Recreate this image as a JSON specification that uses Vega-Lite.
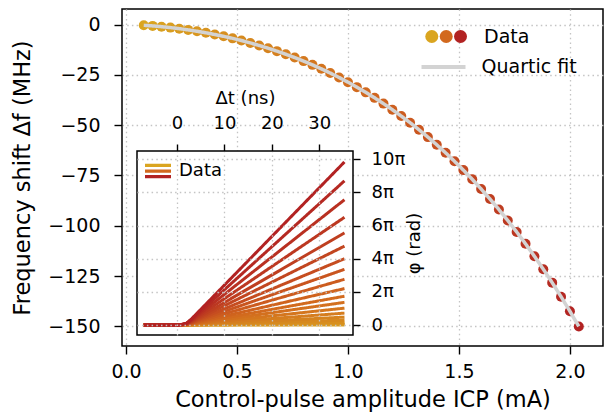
{
  "$schema": "https://vega.github.io/schema/vega-lite/v6.json",
  "width": 481,
  "height": 337,
  "autosize": {"type": "none"},
  "padding": {"left": 122, "top": 9, "right": 2, "bottom": 69},
  "background": "white",
  "config": {
    "font": "DejaVu Sans",
    "view": {"stroke": "black", "strokeWidth": 1.5},
    "axis": {
      "domain": false,
      "labelFlush": false,
      "tickColor": "black",
      "tickSize": 8,
      "tickWidth": 1.4,
      "labelColor": "black",
      "labelFontSize": 19,
      "labelFont": "DejaVu Sans",
      "titleFont": "DejaVu Sans",
      "titleFontSize": 22.5,
      "titleFontWeight": "normal",
      "titleColor": "black",
      "gridColor": "#c4c4c4",
      "gridDash": [1.5, 3.2],
      "gridWidth": 1.3
    },
    "legend": {"labelFontSize": 19, "labelColor": "black", "labelFont": "DejaVu Sans"}
  },
  "datasets": {
    "main": [
      {"I": 0.08, "df": -0.40}, {"I": 0.12, "df": -0.70}, {"I": 0.16, "df": -1.08}, {"I": 0.20, "df": -1.54},
      {"I": 0.24, "df": -2.07}, {"I": 0.28, "df": -2.67}, {"I": 0.32, "df": -3.36}, {"I": 0.36, "df": -4.12},
      {"I": 0.40, "df": -4.96}, {"I": 0.44, "df": -5.88}, {"I": 0.48, "df": -6.88}, {"I": 0.52, "df": -7.97},
      {"I": 0.56, "df": -9.15}, {"I": 0.60, "df": -10.41}, {"I": 0.64, "df": -11.77}, {"I": 0.68, "df": -13.23},
      {"I": 0.72, "df": -14.78}, {"I": 0.76, "df": -16.43}, {"I": 0.80, "df": -18.19}, {"I": 0.84, "df": -20.05},
      {"I": 0.88, "df": -22.02}, {"I": 0.92, "df": -24.11}, {"I": 0.96, "df": -26.32}, {"I": 1.00, "df": -28.65},
      {"I": 1.04, "df": -31.11}, {"I": 1.08, "df": -33.70}, {"I": 1.12, "df": -36.43}, {"I": 1.16, "df": -39.29},
      {"I": 1.20, "df": -42.31}, {"I": 1.24, "df": -45.47}, {"I": 1.28, "df": -48.79}, {"I": 1.32, "df": -52.28},
      {"I": 1.36, "df": -55.93}, {"I": 1.40, "df": -59.75}, {"I": 1.44, "df": -63.75}, {"I": 1.48, "df": -67.94},
      {"I": 1.52, "df": -72.33}, {"I": 1.56, "df": -76.91}, {"I": 1.60, "df": -81.69}, {"I": 1.64, "df": -86.69},
      {"I": 1.68, "df": -91.91}, {"I": 1.72, "df": -97.35}, {"I": 1.76, "df": -103.03}, {"I": 1.80, "df": -108.95},
      {"I": 1.84, "df": -115.12}, {"I": 1.88, "df": -121.54}, {"I": 1.92, "df": -128.23}, {"I": 1.96, "df": -135.20},
      {"I": 2.00, "df": -142.45}, {"I": 2.04, "df": -149.99}
    ],
    "inset": [
      {"I": 0.14, "t": -7, "phi": 0}, {"I": 0.14, "t": 0.5, "phi": 0}, {"I": 0.14, "t": 2, "phi": 0}, {"I": 0.14, "t": 3, "phi": 0}, {"I": 0.14, "t": 35.3, "phi": 0.01},
      {"I": 0.24, "t": -7, "phi": 0}, {"I": 0.24, "t": 0.5, "phi": 0}, {"I": 0.24, "t": 2, "phi": 0}, {"I": 0.24, "t": 3, "phi": 0.001}, {"I": 0.24, "t": 35.3, "phi": 0.04},
      {"I": 0.34, "t": -7, "phi": 0}, {"I": 0.34, "t": 0.5, "phi": 0}, {"I": 0.34, "t": 2, "phi": 0.001}, {"I": 0.34, "t": 3, "phi": 0.003}, {"I": 0.34, "t": 35.3, "phi": 0.08},
      {"I": 0.44, "t": -7, "phi": 0}, {"I": 0.44, "t": 0.5, "phi": 0}, {"I": 0.44, "t": 2, "phi": 0.002}, {"I": 0.44, "t": 3, "phi": 0.006}, {"I": 0.44, "t": 35.3, "phi": 0.17},
      {"I": 0.54, "t": -7, "phi": 0}, {"I": 0.54, "t": 0.5, "phi": 0}, {"I": 0.54, "t": 2, "phi": 0.004}, {"I": 0.54, "t": 3, "phi": 0.011}, {"I": 0.54, "t": 35.3, "phi": 0.30},
      {"I": 0.64, "t": -7, "phi": 0}, {"I": 0.64, "t": 0.5, "phi": 0}, {"I": 0.64, "t": 2, "phi": 0.006}, {"I": 0.64, "t": 3, "phi": 0.017}, {"I": 0.64, "t": 35.3, "phi": 0.48},
      {"I": 0.74, "t": -7, "phi": 0}, {"I": 0.74, "t": 0.5, "phi": 0}, {"I": 0.74, "t": 2, "phi": 0.009}, {"I": 0.74, "t": 3, "phi": 0.026}, {"I": 0.74, "t": 35.3, "phi": 0.72},
      {"I": 0.84, "t": -7, "phi": 0}, {"I": 0.84, "t": 0.5, "phi": 0}, {"I": 0.84, "t": 2, "phi": 0.012}, {"I": 0.84, "t": 3, "phi": 0.037}, {"I": 0.84, "t": 35.3, "phi": 1.02},
      {"I": 0.94, "t": -7, "phi": 0}, {"I": 0.94, "t": 0.5, "phi": 0}, {"I": 0.94, "t": 2, "phi": 0.016}, {"I": 0.94, "t": 3, "phi": 0.049}, {"I": 0.94, "t": 35.3, "phi": 1.37},
      {"I": 1.04, "t": -7, "phi": 0}, {"I": 1.04, "t": 0.5, "phi": 0}, {"I": 1.04, "t": 2, "phi": 0.021}, {"I": 1.04, "t": 3, "phi": 0.063}, {"I": 1.04, "t": 35.3, "phi": 1.74},
      {"I": 1.14, "t": -7, "phi": 0}, {"I": 1.14, "t": 0.5, "phi": 0}, {"I": 1.14, "t": 2, "phi": 0.026}, {"I": 1.14, "t": 3, "phi": 0.079}, {"I": 1.14, "t": 35.3, "phi": 2.20},
      {"I": 1.24, "t": -7, "phi": 0}, {"I": 1.24, "t": 0.5, "phi": 0}, {"I": 1.24, "t": 2, "phi": 0.033}, {"I": 1.24, "t": 3, "phi": 0.099}, {"I": 1.24, "t": 35.3, "phi": 2.76},
      {"I": 1.34, "t": -7, "phi": 0}, {"I": 1.34, "t": 0.5, "phi": 0}, {"I": 1.34, "t": 2, "phi": 0.040}, {"I": 1.34, "t": 3, "phi": 0.121}, {"I": 1.34, "t": 35.3, "phi": 3.36},
      {"I": 1.44, "t": -7, "phi": 0}, {"I": 1.44, "t": 0.5, "phi": 0}, {"I": 1.44, "t": 2, "phi": 0.048}, {"I": 1.44, "t": 3, "phi": 0.144}, {"I": 1.44, "t": 35.3, "phi": 4.00},
      {"I": 1.54, "t": -7, "phi": 0}, {"I": 1.54, "t": 0.5, "phi": 0}, {"I": 1.54, "t": 2, "phi": 0.057}, {"I": 1.54, "t": 3, "phi": 0.171}, {"I": 1.54, "t": 35.3, "phi": 4.76},
      {"I": 1.64, "t": -7, "phi": 0}, {"I": 1.64, "t": 0.5, "phi": 0}, {"I": 1.64, "t": 2, "phi": 0.067}, {"I": 1.64, "t": 3, "phi": 0.200}, {"I": 1.64, "t": 35.3, "phi": 5.56},
      {"I": 1.74, "t": -7, "phi": 0}, {"I": 1.74, "t": 0.5, "phi": 0}, {"I": 1.74, "t": 2, "phi": 0.078}, {"I": 1.74, "t": 3, "phi": 0.234}, {"I": 1.74, "t": 35.3, "phi": 6.50},
      {"I": 1.84, "t": -7, "phi": 0}, {"I": 1.84, "t": 0.5, "phi": 0}, {"I": 1.84, "t": 2, "phi": 0.091}, {"I": 1.84, "t": 3, "phi": 0.272}, {"I": 1.84, "t": 35.3, "phi": 7.56},
      {"I": 1.94, "t": -7, "phi": 0}, {"I": 1.94, "t": 0.5, "phi": 0}, {"I": 1.94, "t": 2, "phi": 0.104}, {"I": 1.94, "t": 3, "phi": 0.313}, {"I": 1.94, "t": 35.3, "phi": 8.70},
      {"I": 2.04, "t": -7, "phi": 0}, {"I": 2.04, "t": 0.5, "phi": 0}, {"I": 2.04, "t": 2, "phi": 0.118}, {"I": 2.04, "t": 3, "phi": 0.354}, {"I": 2.04, "t": 35.3, "phi": 9.84}
    ]
  },
  "layer": [
    {
      "data": {"name": "main"},
      "layer": [
        {
          "mark": {"type": "point", "filled": true, "size": 100, "opacity": 1},
          "encoding": {
            "x": {
              "field": "I", "type": "quantitative",
              "scale": {"domain": [-0.018, 2.149], "nice": false, "zero": false},
              "axis": {"orient": "bottom", "values": [0, 0.5, 1, 1.5, 2], "format": ".1f", "grid": true, "labelPadding": 8, "titlePadding": 7, "title": "Control-pulse amplitude ICP (mA)"}
            },
            "y": {
              "field": "df", "type": "quantitative",
              "scale": {"domain": [-159.7, 7.7], "nice": false, "zero": false},
              "axis": {"orient": "left", "values": [0, -25, -50, -75, -100, -125, -150], "grid": true, "labelPadding": 14, "titlePadding": 13, "title": "Frequency shift Δf (MHz)"}
            },
            "color": {
              "field": "I", "type": "quantitative",
              "scale": {"domain": [0.08, 2.04], "range": ["#daa520", "#d2691e", "#b22222"], "interpolate": "rgb"},
              "legend": null
            },
            "shape": {
              "datum": "Data1", "type": "ordinal",
              "scale": {"range": ["circle"]},
              "legend": {
                "orient": "none", "legendX": 300.3, "legendY": 18, "title": null,
                "symbolType": "circle", "symbolSize": 169, "symbolFillColor": "#daa520",
                "symbolStrokeWidth": 0, "symbolStrokeColor": "transparent", "symbolOpacity": 1,
                "labelExpr": "' '", "labelOffset": 0, "labelFontSize": 19
              }
            },
            "stroke": {
              "datum": "Data2", "type": "nominal",
              "scale": {"type": "ordinal", "range": ["transparent"]},
              "legend": {
                "orient": "none", "legendX": 314.7, "legendY": 18, "title": null,
                "symbolType": "circle", "symbolSize": 169, "symbolFillColor": "#d2691e",
                "symbolStrokeWidth": 0, "symbolOpacity": 1,
                "labelExpr": "' '", "labelOffset": 0, "labelFontSize": 19
              }
            },
            "opacity": {
              "datum": "Data", "type": "ordinal",
              "scale": {"type": "ordinal", "range": [1]},
              "legend": {
                "orient": "none", "legendX": 329, "legendY": 18, "title": null,
                "symbolType": "circle", "symbolSize": 169, "symbolFillColor": "#b22222",
                "symbolStrokeWidth": 0, "symbolStrokeColor": "transparent",
                "labelOffset": 14, "labelFontSize": 19
              }
            }
          }
        },
        {
          "mark": {"type": "line", "color": "#d3d3d3", "strokeWidth": 3.5},
          "encoding": {
            "x": {"field": "I", "type": "quantitative"},
            "y": {"field": "df", "type": "quantitative"},
            "strokeDash": {
              "datum": "Quartic fit",
              "scale": {"range": [[1, 0]]},
              "legend": {
                "orient": "none", "legendX": 297.5, "legendY": 34, "title": null,
                "symbolType": "stroke", "symbolSize": 1936, "symbolStrokeWidth": 4,
                "symbolStrokeColor": "#d3d3d3", "labelOffset": 14, "labelFontSize": 19
              }
            }
          }
        }
      ],
      "resolve": {"scale": {"strokeDash": "independent"}, "legend": {"strokeDash": "independent"}}
    },
    {
      "layer": [
        {
          "data": {"values": [{}]},
          "mark": {"type": "rect", "fill": "white", "stroke": "black", "strokeWidth": 1.5},
          "encoding": {
            "x": {
              "datum": -8.43, "type": "quantitative",
              "scale": {"domain": [-8.43, 37.1], "range": [15, 231], "nice": false, "zero": false},
              "axis": {"orient": "top", "offset": -142, "values": [0, 10, 20, 30], "grid": true, "zindex": 1, "tickSize": 7,
                       "labelFontSize": 18, "titleFontSize": 18, "labelPadding": 12, "titlePadding": 7, "title": "Δt (ns)"}
            },
            "x2": {"datum": 37.1},
            "y": {
              "datum": -0.6, "type": "quantitative",
              "scale": {"domain": [-0.6, 10.5], "range": [326, 142], "nice": false, "zero": false},
              "axis": {"orient": "left", "offset": -231, "values": [0, 2, 4, 6, 8, 10], "grid": true, "zindex": 1,
                       "tickSize": -7, "labelPadding": -11, "labelAlign": "left",
                       "labelExpr": "datum.value == 0 ? '0' : datum.value + 'π'",
                       "labelFontSize": 18, "titleFontSize": 18, "titleX": 70, "title": "φ (rad)"}
            },
            "y2": {"datum": 10.5}
          }
        },
        {
          "data": {"name": "inset"},
          "mark": {"type": "line", "strokeWidth": 3},
          "encoding": {
            "x": {"field": "t", "type": "quantitative"},
            "y": {"field": "phi", "type": "quantitative"},
            "color": {
              "field": "I", "type": "quantitative",
              "scale": {"domain": [0.08, 2.04], "range": ["#daa520", "#d2691e", "#b22222"], "interpolate": "rgb"},
              "legend": null
            },
            "detail": {"field": "I", "type": "quantitative"},
            "strokeDash": {
              "datum": "Data inset",
              "scale": {"range": [[1, 0]]},
              "legend": {
                "orient": "none", "legendX": 23, "legendY": 149, "title": null,
                "labelExpr": "'Data'", "symbolSize": 676, "labelOffset": 8, "labelFontSize": 18,
                "encode": {
                  "symbols": {
                    "update": {
                      "shape": {"value": "M-1,-0.55h2v0.25h-2Z M-1,-0.125h2v0.25h-2Z M-1,0.3h2v0.25h-2Z"},
                      "fill": {"value": {"gradient": "linear", "x1": 0, "y1": 0, "x2": 0, "y2": 1, "stops": [
                        {"offset": 0, "color": "#daa520"}, {"offset": 0.3, "color": "#daa520"},
                        {"offset": 0.3, "color": "#d2691e"}, {"offset": 0.7, "color": "#d2691e"},
                        {"offset": 0.7, "color": "#b22222"}, {"offset": 1, "color": "#b22222"}]}},
                      "stroke": {"value": "transparent"},
                      "strokeWidth": {"value": 0},
                      "opacity": {"value": 1}
                    }
                  }
                }
              }
            }
          }
        }
      ]
    }
  ],
  "resolve": {
    "scale": {"x": "independent", "y": "independent", "strokeDash": "independent"},
    "axis": {"x": "independent", "y": "independent"},
    "legend": {"strokeDash": "independent"}
  }
}
